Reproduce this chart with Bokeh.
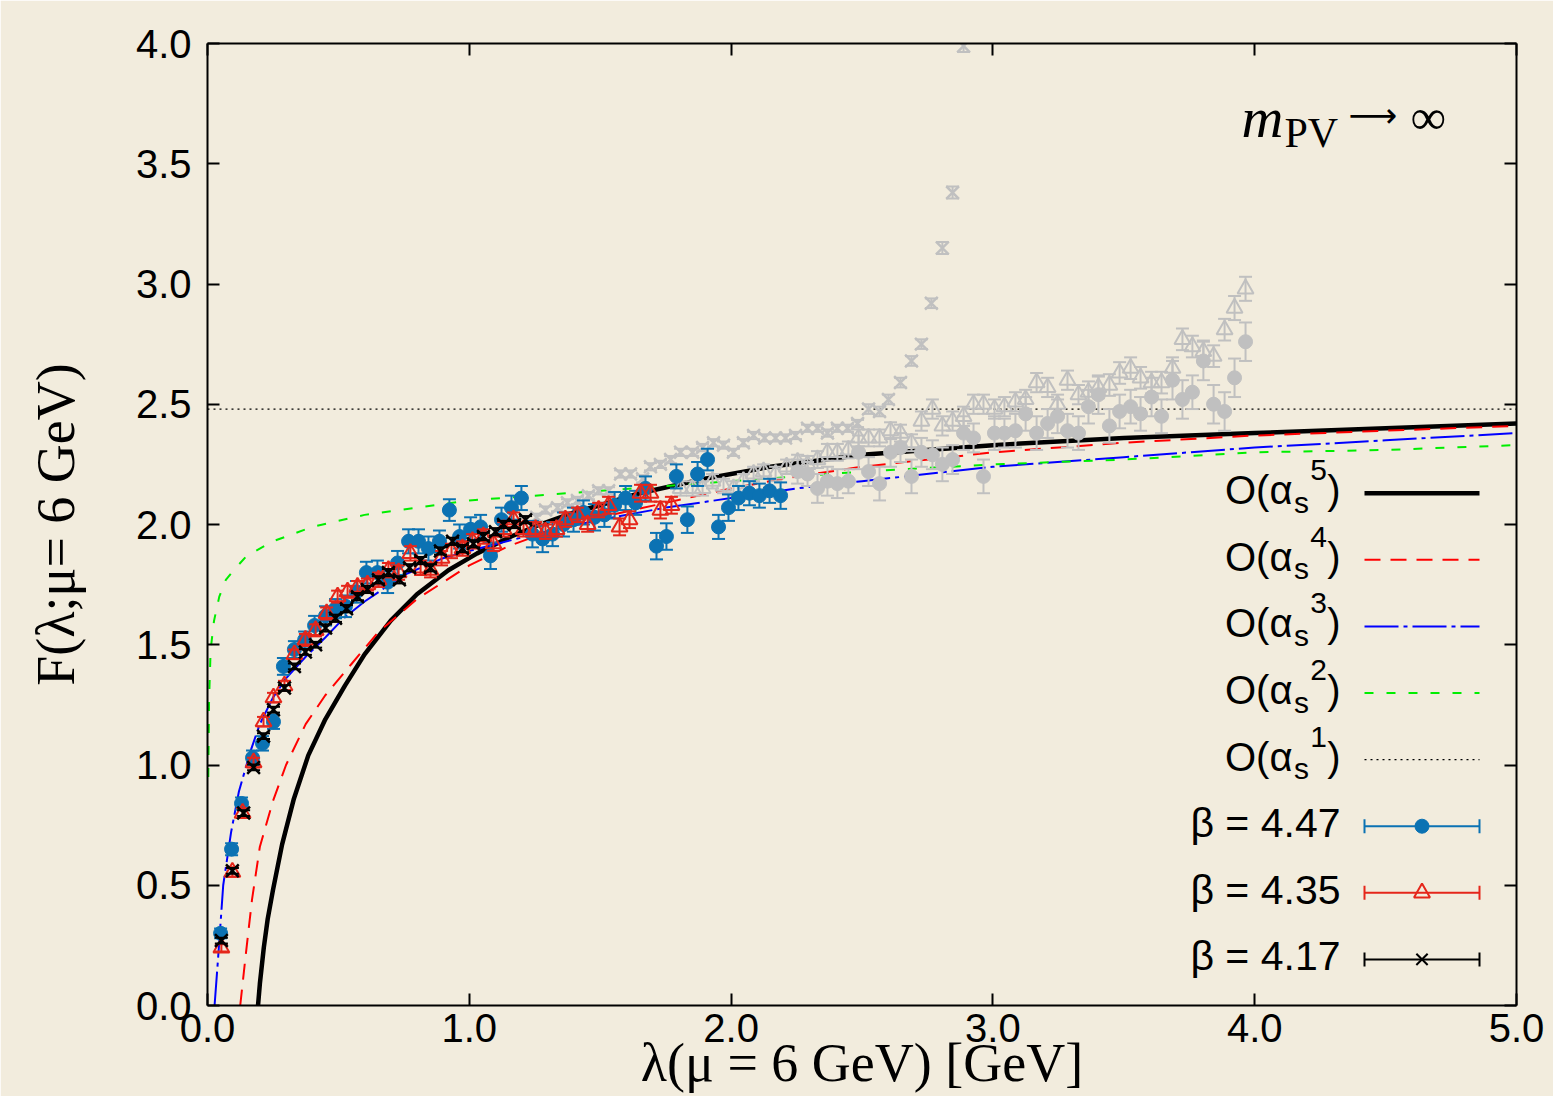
from bokeh.plotting import figure
from bokeh.models import Range1d, LinearAxis, FixedTicker, PrintfTickFormatter, CustomJSTickFormatter
from bokeh.core.properties import value
from bokeh.embed import file_html
from bokeh.resources import INLINE

# ---------------- theory curves ----------------
o1_x = [0.0, 5.0]
o1_y = [2.48, 2.48]

o2_x = [0.003, 0.006, 0.012, 0.025, 0.045, 0.07, 0.10, 0.15, 0.25, 0.40, 0.60, 0.80, 1.00, 1.25, 1.50,
        1.75, 2.00, 2.25, 2.50, 3.00, 3.50, 4.00, 4.50, 5.00]
o2_y = [0.95, 1.27, 1.48, 1.60, 1.70, 1.77, 1.81, 1.87, 1.93, 1.99, 2.04, 2.07, 2.10, 2.12, 2.14,
        2.16, 2.18, 2.20, 2.22, 2.25, 2.27, 2.30, 2.31, 2.33]

o3_x = [0.027, 0.04, 0.06, 0.09, 0.12, 0.165, 0.20, 0.25, 0.30, 0.375, 0.45, 0.52, 0.60, 0.75, 0.90,
        1.00, 1.25, 1.50, 1.75, 2.00, 2.25, 2.50, 3.00, 3.50, 4.00, 4.50, 5.00]
o3_y = [0.00, 0.19, 0.50, 0.72, 0.89, 1.06, 1.17, 1.28, 1.36, 1.45, 1.53, 1.61, 1.68, 1.79, 1.86,
        1.89, 1.96, 2.02, 2.07, 2.11, 2.15, 2.18, 2.24, 2.28, 2.32, 2.35, 2.38]

o4_x = [0.125, 0.135, 0.145, 0.17, 0.20, 0.25, 0.30, 0.375, 0.45, 0.55, 0.65, 0.80, 0.90, 1.00, 1.15,
        1.30, 1.50, 1.75, 2.00, 2.25, 2.50, 3.00, 3.50, 4.00, 4.50, 5.00]
o4_y = [0.00, 0.10, 0.20, 0.44, 0.66, 0.85, 1.00, 1.17, 1.29, 1.42, 1.55, 1.69, 1.76, 1.83, 1.91,
        1.97, 2.03, 2.09, 2.15, 2.20, 2.24, 2.30, 2.34, 2.37, 2.39, 2.41]

o5_x = [0.193, 0.20, 0.215, 0.23, 0.25, 0.285, 0.33, 0.385, 0.45, 0.525, 0.60, 0.70, 0.80, 0.92, 1.03,
        1.16, 1.27, 1.40, 1.50, 1.65, 1.90, 2.15, 2.50, 3.00, 3.50, 4.00, 4.50, 5.00]
o5_y = [0.00, 0.09, 0.24, 0.36, 0.48, 0.67, 0.86, 1.04, 1.19, 1.33, 1.46, 1.60, 1.71, 1.81, 1.88,
        1.95, 2.00, 2.05, 2.08, 2.13, 2.19, 2.24, 2.29, 2.33, 2.36, 2.38, 2.40, 2.42]

# ---------------- lattice data ----------------
# beta = 4.47 (coloured part)
b447_x = [0.050, 0.092, 0.130, 0.172, 0.210, 0.252, 0.290, 0.332, 0.371, 0.409, 0.451, 0.489, 0.527, 0.569,
          0.607, 0.649, 0.688, 0.726, 0.768, 0.806, 0.844, 0.886, 0.924, 0.963, 1.005, 1.043, 1.081, 1.123,
          1.161, 1.199, 1.241, 1.280, 1.318, 1.360, 1.398, 1.436, 1.478, 1.516, 1.555, 1.597, 1.635, 1.673,
          1.715, 1.753, 1.791, 1.833, 1.872, 1.910, 1.952, 1.990, 2.028, 2.070, 2.108, 2.147, 2.189]
b447_y = [0.30, 0.65, 0.84, 1.03, 1.09, 1.18, 1.41, 1.48, 1.52, 1.58, 1.62, 1.65, 1.66, 1.72,
          1.80, 1.80, 1.76, 1.84, 1.93, 1.93, 1.90, 1.93, 2.06, 1.95, 1.98, 1.99, 1.87, 2.02,
          2.07, 2.11, 1.96, 1.94, 1.96, 2.00, 2.02, 2.05, 2.03, 2.04, 2.08, 2.11, 2.09, 2.15,
          1.91, 1.95, 2.20, 2.02, 2.21, 2.27, 1.99, 2.07, 2.11, 2.13, 2.12, 2.14, 2.12]
b447_e = [0.020, 0.025, 0.025, 0.030, 0.030, 0.030, 0.035, 0.035, 0.035, 0.040, 0.040, 0.040, 0.045, 0.045,
          0.045, 0.050, 0.045, 0.050, 0.050, 0.050, 0.050, 0.045, 0.045, 0.050, 0.050, 0.050, 0.055, 0.050,
          0.050, 0.050, 0.055, 0.055, 0.050, 0.050, 0.050, 0.050, 0.055, 0.050, 0.055, 0.050, 0.050, 0.050,
          0.055, 0.055, 0.050, 0.055, 0.050, 0.045, 0.050, 0.055, 0.050, 0.050, 0.050, 0.050, 0.055]
# beta = 4.47 (grey continuation)
b447g_x = [2.254, 2.292, 2.330, 2.368, 2.406, 2.448, 2.487, 2.525, 2.567, 2.609, 2.647, 2.689, 2.727, 2.769,
           2.807, 2.846, 2.888, 2.926, 2.964, 3.006, 3.044, 3.086, 3.125, 3.167, 3.209, 3.247, 3.285, 3.327,
           3.365, 3.403, 3.445, 3.484, 3.526, 3.564, 3.606, 3.644, 3.686, 3.724, 3.762, 3.804, 3.843, 3.885,
           3.923, 3.965]
b447g_y = [2.22, 2.21, 2.15, 2.18, 2.17, 2.18, 2.30, 2.22, 2.17, 2.30, 2.32, 2.20, 2.30, 2.29,
           2.25, 2.27, 2.38, 2.36, 2.20, 2.38, 2.38, 2.39, 2.46, 2.38, 2.42, 2.45, 2.39, 2.38,
           2.49, 2.54, 2.41, 2.47, 2.49, 2.46, 2.53, 2.45, 2.60, 2.52, 2.55, 2.68, 2.50, 2.47,
           2.61, 2.76]
b447g_e = [0.05, 0.05, 0.06, 0.06, 0.06, 0.05, 0.07, 0.06, 0.07, 0.06, 0.06, 0.07, 0.06, 0.06,
           0.07, 0.06, 0.07, 0.06, 0.07, 0.07, 0.06, 0.07, 0.07, 0.07, 0.06, 0.07, 0.07, 0.07,
           0.07, 0.08, 0.07, 0.07, 0.07, 0.07, 0.08, 0.07, 0.08, 0.08, 0.07, 0.08, 0.08, 0.08,
           0.08, 0.08]

# beta = 4.35 (coloured part)
b435_x = [0.053, 0.095, 0.134, 0.176, 0.214, 0.252, 0.294, 0.332, 0.374, 0.413, 0.455, 0.497, 0.535, 0.573,
          0.611, 0.653, 0.691, 0.730, 0.775, 0.814, 0.852, 0.894, 0.932, 0.974, 1.012, 1.054, 1.092, 1.131,
          1.169, 1.207, 1.253, 1.291, 1.333, 1.367, 1.413, 1.452, 1.494, 1.532, 1.574, 1.612, 1.654, 1.692,
          1.730, 1.772]
b435_y = [0.24, 0.555, 0.80, 1.01, 1.18, 1.28, 1.33, 1.46, 1.52, 1.56, 1.63, 1.70, 1.72, 1.74,
          1.75, 1.77, 1.81, 1.80, 1.88, 1.82, 1.81, 1.86, 1.89, 1.90, 1.93, 1.95, 1.92, 1.98,
          2.02, 1.98, 1.98, 1.97, 1.98, 2.02, 2.04, 2.00, 2.06, 2.08, 1.99, 2.02, 2.13, 2.13,
          2.06, 2.08]
b435_e = [0.015, 0.020, 0.020, 0.020, 0.020, 0.020, 0.020, 0.020, 0.025, 0.025, 0.025, 0.025, 0.025, 0.025,
          0.025, 0.030, 0.030, 0.030, 0.030, 0.030, 0.030, 0.030, 0.030, 0.030, 0.030, 0.030, 0.030, 0.030,
          0.030, 0.030, 0.030, 0.030, 0.030, 0.030, 0.030, 0.030, 0.030, 0.035, 0.035, 0.035, 0.035, 0.035,
          0.035, 0.035]
# beta = 4.35 (grey continuation)
b435g_x = [1.807, 1.853, 1.891, 1.929, 1.971, 2.009, 2.047, 2.086, 2.124, 2.170, 2.212, 2.254, 2.292, 2.330,
           2.368, 2.406, 2.448, 2.487, 2.525, 2.567, 2.609, 2.647, 2.689, 2.727, 2.769, 2.807, 2.846, 2.888,
           2.926, 2.964, 3.006, 3.044, 3.086, 3.125, 3.167, 3.209, 3.247, 3.285, 3.327, 3.365, 3.403, 3.445,
           3.484, 3.526, 3.564, 3.606, 3.644, 3.686, 3.724, 3.762, 3.804, 3.843, 3.885, 3.923, 3.965]
b435g_y = [2.15, 2.15, 2.15, 2.18, 2.16, 2.15, 2.18, 2.21, 2.22, 2.21, 2.24, 2.26, 2.25, 2.27,
           2.30, 2.30, 2.31, 2.36, 2.36, 2.36, 2.39, 2.38, 2.34, 2.43, 2.48, 2.41, 2.43, 2.45,
           2.50, 2.50, 2.48, 2.49, 2.51, 2.52, 2.59, 2.57, 2.50, 2.60, 2.54, 2.55, 2.57, 2.58,
           2.63, 2.65, 2.61, 2.59, 2.59, 2.65, 2.77, 2.74, 2.72, 2.70, 2.81, 2.90, 2.98]
b435g_e = [0.030, 0.030, 0.030, 0.030, 0.030, 0.030, 0.030, 0.030, 0.030, 0.030, 0.030, 0.030, 0.035, 0.035,
           0.035, 0.035, 0.035, 0.035, 0.035, 0.035, 0.035, 0.035, 0.035, 0.040, 0.040, 0.040, 0.040, 0.040,
           0.040, 0.040, 0.040, 0.040, 0.040, 0.040, 0.040, 0.040, 0.040, 0.040, 0.040, 0.045, 0.045, 0.045,
           0.045, 0.045, 0.045, 0.045, 0.045, 0.045, 0.045, 0.045, 0.045, 0.045, 0.045, 0.050, 0.050]

# beta = 4.17 (coloured part)
b417_x = [0.053, 0.095, 0.138, 0.176, 0.214, 0.252, 0.294, 0.332, 0.374, 0.413, 0.451, 0.489, 0.531, 0.573,
          0.611, 0.653, 0.691, 0.733, 0.772, 0.814, 0.852, 0.890, 0.936, 0.974, 1.016, 1.054, 1.100, 1.131,
          1.173, 1.215]
b417_y = [0.27, 0.56, 0.80, 0.99, 1.12, 1.23, 1.32, 1.41, 1.47, 1.50, 1.57, 1.61, 1.65, 1.70,
          1.73, 1.77, 1.80, 1.77, 1.82, 1.85, 1.82, 1.89, 1.93, 1.90, 1.92, 1.95, 1.97, 2.00,
          2.00, 2.02]
b417_e = [0.012, 0.012, 0.012, 0.012, 0.012, 0.012, 0.012, 0.012, 0.012, 0.012, 0.015, 0.015, 0.015, 0.015,
          0.015, 0.015, 0.015, 0.015, 0.015, 0.015, 0.015, 0.015, 0.015, 0.015, 0.015, 0.015, 0.015, 0.015,
          0.015, 0.015]
# beta = 4.17 (grey continuation)
b417g_x = [1.257, 1.291, 1.337, 1.375, 1.413, 1.455, 1.494, 1.532, 1.578, 1.616, 1.662, 1.692, 1.730, 1.769,
           1.807, 1.853, 1.891, 1.933, 1.971, 2.009, 2.047, 2.086, 2.128, 2.170, 2.208, 2.246, 2.292, 2.330,
           2.368, 2.406, 2.445, 2.483, 2.525, 2.567, 2.601, 2.647, 2.689, 2.727, 2.765, 2.807, 2.846, 2.888]
b417g_y = [2.03, 2.06, 2.07, 2.09, 2.10, 2.12, 2.14, 2.14, 2.21, 2.21, 2.19, 2.24, 2.25, 2.27,
           2.30, 2.30, 2.32, 2.34, 2.33, 2.30, 2.34, 2.37, 2.36, 2.36, 2.36, 2.37, 2.40, 2.40,
           2.38, 2.40, 2.40, 2.42, 2.48, 2.47, 2.52, 2.59, 2.68, 2.75, 2.92, 3.15, 3.38, 3.99]
b417g_e = [0.015, 0.015, 0.015, 0.015, 0.015, 0.015, 0.015, 0.015, 0.015, 0.015, 0.015, 0.015, 0.015, 0.015,
           0.015, 0.015, 0.015, 0.015, 0.015, 0.015, 0.015, 0.015, 0.015, 0.015, 0.015, 0.015, 0.015, 0.015,
           0.015, 0.015, 0.015, 0.015, 0.020, 0.020, 0.020, 0.020, 0.020, 0.020, 0.020, 0.025, 0.025, 0.025]

x_ticks = [0, 1, 2, 3, 4, 5]
y_ticks = [0.0, 0.5, 1.0, 1.5, 2.0, 2.5, 3.0, 3.5, 4.0]

legend_curves = ["5", "4", "3", "2", "1"]
legend_betas = ["β = 4.47", "β = 4.35", "β = 4.17"]
x_title = "λ(μ = 6 GeV) [GeV]"
y_title = "F(λ;μ= 6 GeV)"

# ---------------- styling ----------------
BG = "#f2ecdd"
BLUE_PT = "#0b72b3"
RED_PT = "#e5261a"
GREY = "#c0c0c0"
SANS = "Liberation Sans"
SERIF = "Liberation Serif"

W, H = 1553, 1096
L, R, T, B = 207, 37, 43, 91

p = figure(width=W, height=H, x_range=Range1d(0, 5), y_range=Range1d(0, 4),
           output_backend="svg", toolbar_location=None,
           min_border_left=L, min_border_right=R, min_border_top=T, min_border_bottom=B)
p.background_fill_color = BG
p.border_fill_color = BG
p.outline_line_color = None
p.xgrid.visible = False
p.ygrid.visible = False


def style_axis(ax, ticks):
    ax.ticker = FixedTicker(ticks=ticks)
    ax.axis_line_width = 2
    ax.axis_line_color = "black"
    ax.major_tick_in = 12
    ax.major_tick_out = 0
    ax.major_tick_line_width = 2
    ax.minor_tick_line_color = None
    ax.major_label_text_font = SANS
    ax.major_label_text_font_size = "40px"
    ax.major_label_text_color = "black"


style_axis(p.xaxis[0], x_ticks)
style_axis(p.yaxis[0], y_ticks)
p.xaxis[0].formatter = PrintfTickFormatter(format="%.1f")
p.yaxis[0].formatter = PrintfTickFormatter(format="%.1f")
p.xaxis[0].major_label_standoff = 8
p.yaxis[0].major_label_standoff = 16

p.xaxis[0].axis_label = x_title
p.xaxis[0].axis_label_text_font = SERIF
p.xaxis[0].axis_label_text_font_style = "normal"
p.xaxis[0].axis_label_text_font_size = "54px"
p.xaxis[0].axis_label_text_color = "black"
p.xaxis[0].axis_label_standoff = -12

p.yaxis[0].axis_label = y_title
p.yaxis[0].axis_label_text_font = SERIF
p.yaxis[0].axis_label_text_font_style = "normal"
p.yaxis[0].axis_label_text_font_size = "54px"
p.yaxis[0].axis_label_text_color = "black"
p.yaxis[0].axis_label_standoff = 47

top_ax = LinearAxis()
right_ax = LinearAxis()
for ax, tk in ((top_ax, x_ticks), (right_ax, y_ticks)):
    style_axis(ax, tk)
    ax.formatter = CustomJSTickFormatter(code="return ''")
    ax.major_label_standoff = 0
    ax.major_label_text_font_size = "1px"
p.add_layout(top_ax, "above")
p.add_layout(right_ax, "right")

# ---------------- curves ----------------
p.line(o5_x, o5_y, line_color="black", line_width=4.5, line_join="round")
p.line(o4_x, o4_y, line_color="#ff0000", line_width=2, line_dash="16 10")
p.line(o3_x, o3_y, line_color="#0000ff", line_width=2, line_dash="34 5 4 5")
p.line(o2_x, o2_y, line_color="#00ee00", line_width=2, line_dash="9 13")
p.line(o1_x, o1_y, line_color="black", line_width=1.2, line_dash="2 4")


def errpoints(xs, ys, es, color, marker, size, lw, fill, cap=13, elw=2):
    lo = [y - e for y, e in zip(ys, es)]
    hi = [y + e for y, e in zip(ys, es)]
    p.segment(x0=xs, y0=lo, x1=xs, y1=hi, line_color=color, line_width=elw)
    p.scatter(xs, lo, marker="dash", size=cap, line_color=color, line_width=elw)
    p.scatter(xs, hi, marker="dash", size=cap, line_color=color, line_width=elw)
    p.scatter(xs, ys, marker=marker, size=size, line_color=color, line_width=lw,
              fill_color=fill)


# grey continuations
errpoints(b447g_x, b447g_y, b447g_e, GREY, "circle", 14, 1, GREY)
errpoints(b435g_x, b435g_y, b435g_e, GREY, "triangle", 16, 2, None)
errpoints(b417g_x, b417g_y, b417g_e, GREY, "x", 18, 2.5, None)
# coloured
errpoints(b447_x, b447_y, b447_e, BLUE_PT, "circle", 14, 1, BLUE_PT)
errpoints(b435_x, b435_y, b435_e, RED_PT, "triangle", 16, 2, None)
errpoints(b417_x, b417_y, b417_e, "black", "x", 18, 2.5, None)

# ---------------- legend (drawn in a pixel coordinate system) ----------------
p.extra_x_ranges = {"px": Range1d(L, W - R)}
p.extra_y_ranges = {"py": Range1d(H - B, T)}
PX = dict(x_range_name="px", y_range_name="py")
TXT_SHIFT = 15  # compensates the text glyph's baseline placement

LEG_X0, LEG_X1 = 1364, 1479
LEG_XM = (LEG_X0 + LEG_X1) / 2
LEG_TXT_R = 1340
LEG_Y0, LEG_DY = 492.7, 66.6
rows = [LEG_Y0 + i * LEG_DY for i in range(8)]
BASE_OFF = 12 - TXT_SHIFT


def txt(x, y, s, font=SANS, size="40px", align="right", style="normal"):
    p.text([x], [y], text=[s], text_font=value(font), text_font_size=size, text_font_style=style,
           text_align=align, text_baseline="alphabetic", text_color="black", **PX)


curve_styles = [
    dict(line_color="black", line_width=4.5),
    dict(line_color="#ff0000", line_width=2, line_dash="16 10"),
    dict(line_color="#0000ff", line_width=2, line_dash="34 5 4 5"),
    dict(line_color="#00ee00", line_width=2, line_dash="9 13"),
    dict(line_color="black", line_width=1.2, line_dash="2 4"),
]
for i, (n, st) in enumerate(zip(legend_curves, curve_styles)):
    yy = rows[i]
    p.line([LEG_X0, LEG_X1], [yy, yy], **st, **PX)
    base = yy + BASE_OFF
    txt(LEG_TXT_R, base, ")")
    txt(LEG_TXT_R - 13.5, base - 20, n, size="30px")
    txt(LEG_TXT_R - 31.5, base + 12, "s", size="30px")
    txt(LEG_TXT_R - 48, base, "O(α")

beta_styles = [
    (BLUE_PT, "circle", 14, 1, BLUE_PT),
    (RED_PT, "triangle", 16, 2, None),
    ("black", "x", 16, 2, None),
]
for j, (lab, (col, mk, sz, lw, fc)) in enumerate(zip(legend_betas, beta_styles)):
    yy = rows[5 + j]
    p.line([LEG_X0, LEG_X1], [yy, yy], line_color=col, line_width=2, **PX)
    p.segment(x0=[LEG_X0, LEG_X1], y0=[yy - 7, yy - 7], x1=[LEG_X0, LEG_X1], y1=[yy + 7, yy + 7],
              line_color=col, line_width=2, **PX)
    p.scatter([LEG_XM], [yy], marker=mk, size=sz, line_color=col, line_width=lw, fill_color=fc, **PX)
    txt(LEG_TXT_R, yy + BASE_OFF, lab, size="41px")

# m_PV -> infinity
txt(1241, 132 - TXT_SHIFT, "m", font=SERIF, size="58px", align="left", style="italic")
txt(1284, 147 - TXT_SHIFT, "PV", font=SERIF, size="42px", align="left")
txt(1348, 129 - TXT_SHIFT, "⟶", font="DejaVu Sans", size="34px", align="left")
txt(1410, 131 - TXT_SHIFT, "∞", font=SERIF, size="50px", align="left")

open("out.html", "w").write(file_html(p, INLINE))
